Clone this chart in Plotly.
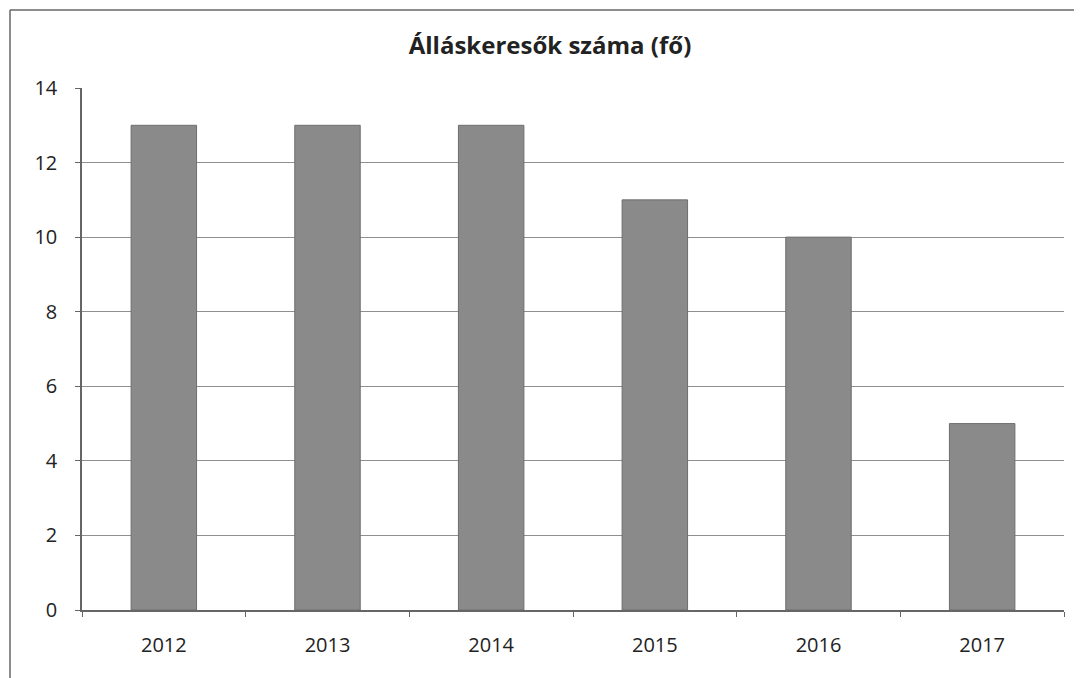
import plotly.graph_objects as go

years = ["2012", "2013", "2014", "2015", "2016", "2017"]
values = [13, 13, 13, 11, 10, 5]
y_ticks = [0, 2, 4, 6, 8, 10, 12, 14]

W, H = 1082, 678
L, R, T, B = 74, 26, 80, 76
pw, ph = W - L - R, H - T - B

fig = go.Figure(go.Bar(x=years, y=values,
                       marker=dict(color="#8a8a8a", line=dict(color="#6e6e6e", width=1))))

def px_x(p):
    return (p - L) / pw

def px_y(p):
    return (T + ph - p) / ph

border = dict(color="#666666", width=1.5)
fig.add_shape(type="line", xref="paper", yref="paper",
              x0=px_x(2), x1=px_x(1100), y0=px_y(2), y1=px_y(2), line=border, layer="below")
fig.add_shape(type="line", xref="paper", yref="paper",
              x0=px_x(2), x1=px_x(2), y0=px_y(2), y1=px_y(700), line=border, layer="below")

fig.update_layout(
    width=W, height=H,
    margin=dict(l=L, r=R, t=T, b=B),
    paper_bgcolor="white", plot_bgcolor="white",
    bargap=0.6,
    showlegend=False,
    font=dict(family="Open Sans, DejaVu Sans, sans-serif", color="#222222"),
    title=dict(text="<b>Álláskeresők száma (fő)</b>", x=542 / W, xanchor="center",
               y=1 - 38 / H, yanchor="middle", font=dict(size=24, color="#222222")),
    xaxis=dict(showline=True, linecolor="#666666", linewidth=1.5, tickson="boundaries",
               ticks="outside", ticklen=5, tickcolor="#666666", showgrid=False,
               tickfont=dict(size=20), ticklabelstandoff=16),
    yaxis=dict(range=[0, 14], tickvals=y_ticks, showline=True, linecolor="#666666", linewidth=1.5,
               ticks="outside", ticklen=5, tickcolor="#666666",
               showgrid=True, gridcolor="#8f8f8f", gridwidth=1,
               tickfont=dict(size=20), ticklabelstandoff=14, zeroline=False),
)

fig.write_html("out.html")
